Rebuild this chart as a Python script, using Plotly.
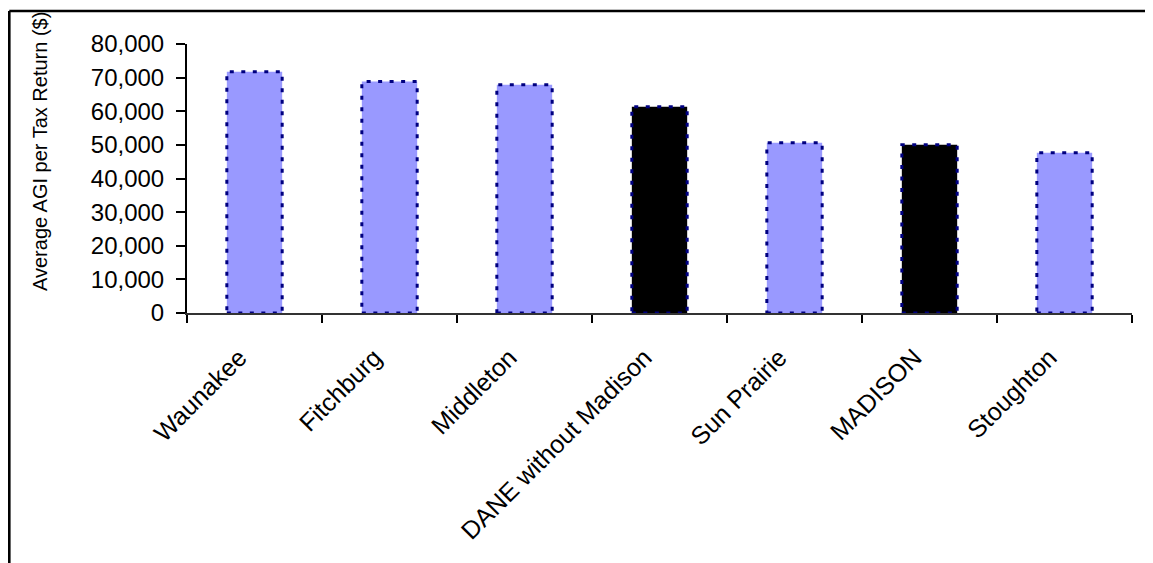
import plotly.graph_objects as go

categories = ["Waunakee", "Fitchburg", "Middleton", "DANE without Madison",
              "Sun Prairie", "MADISON", "Stoughton"]
avg_agi = [71750, 68870, 67880, 61330, 50610, 50020, 47640]
bar_colors = ["#9999FF", "#9999FF", "#9999FF", "#000000", "#9999FF", "#000000", "#9999FF"]
y_ticks = [0, 10000, 20000, 30000, 40000, 50000, 60000, 70000, 80000]
y_title = "Average AGI per Tax Return ($)"

BAR_W = 0.41
FONT = "Liberation Sans, Arial, sans-serif"

fig = go.Figure()
fig.add_trace(go.Bar(
    x=categories, y=avg_agi, width=BAR_W,
    marker=dict(color=bar_colors, line=dict(width=0)),
    hoverinfo="x+y",
))

shapes = []
for i, v in enumerate(avg_agi):
    shapes.append(dict(type="rect", xref="x", yref="y",
                       x0=i - BAR_W / 2, x1=i + BAR_W / 2, y0=0, y1=v,
                       line=dict(color="#000080", width=3, dash="4px,7.5px"),
                       fillcolor="rgba(0,0,0,0)", layer="above"))

# page body has an 8px margin; margins below compensate
W, H = 1153, 563
ml, mr, mt, mb = 179, 29, 36, 258
pw, ph = W - ml - mr, H - mt - mb
fx0 = (1.3 - ml) / pw
fy1 = (H - mb - 3) / ph
shapes.append(dict(type="line", xref="paper", yref="paper", x0=fx0, x1=fx0,
                   y0=-2, y1=fy1, line=dict(color="black", width=2.6)))
shapes.append(dict(type="line", xref="paper", yref="paper", x0=fx0, x1=2,
                   y0=fy1, y1=fy1, line=dict(color="black", width=2.6)))

fig.update_layout(
    width=W, height=H,
    margin=dict(l=ml, r=mr, t=mt, b=mb),
    paper_bgcolor="white", plot_bgcolor="white",
    font=dict(family=FONT, size=24, color="black"),
    showlegend=False,
    shapes=shapes,
    annotations=[dict(text=y_title, textangle=-90, xref="paper", yref="paper",
                      x=(32 - ml) / pw, y=(H - mb - 144) / ph,
                      xanchor="center", yanchor="middle", showarrow=False,
                      font=dict(family=FONT, size=20, color="black"))],
    xaxis=dict(
        type="category", tickson="boundaries", ticks="outside", ticklen=8,
        tickwidth=2, tickcolor="black", showline=True, linecolor="#333333",
        linewidth=2, tickangle=-45, showgrid=False,
        tickfont=dict(family=FONT, size=25, color="black"),
        ticklabelstandoff=18, ticklabelshift=-15,
        range=[-0.5, len(categories) - 0.5],
    ),
    yaxis=dict(
        range=[0, 80000], tickvals=y_ticks, tickformat=",d", ticks="outside",
        ticklen=9, tickwidth=2, tickcolor="black", showline=True,
        linecolor="black", linewidth=2, showgrid=False, zeroline=False,
        tickfont=dict(family=FONT, size=24, color="black"),
        ticklabelstandoff=7,
    ),
)

fig.write_html("out.html")
